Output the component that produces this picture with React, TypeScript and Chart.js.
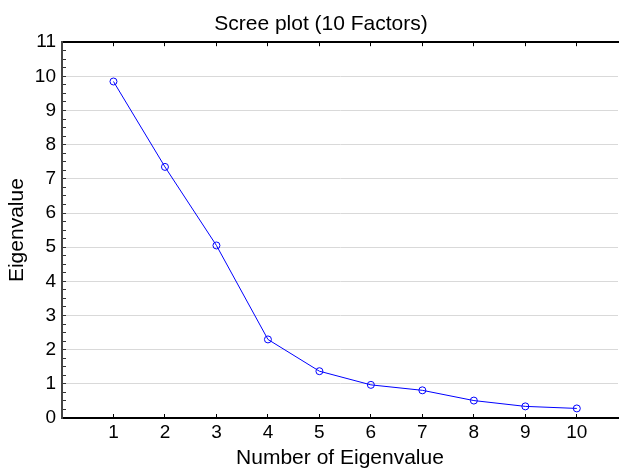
import React, { useEffect, useRef } from 'react';
import { Chart, registerables } from 'chart.js';

Chart.register(...registerables);

const factorNumbers = [1, 2, 3, 4, 5, 6, 7, 8, 9, 10];
const eigenvalues = [9.85, 7.35, 5.05, 2.3, 1.37, 0.97, 0.81, 0.51, 0.34, 0.28];
const xTickValues = [1, 2, 3, 4, 5, 6, 7, 8, 9, 10];
const yMin = 0;
const yMax = 11;
const yMinorStep = 0.25;
const chartTitle = 'Scree plot (10 Factors)';
const xAxisTitle = 'Number of Eigenvalue';
const yAxisTitle = 'Eigenvalue';

const FONT = '"Liberation Sans", Arial, sans-serif';

export default function App() {
  const ref = useRef<HTMLCanvasElement>(null);

  useEffect(() => {
    if (!ref.current) return;
    const chart = new Chart(ref.current, {
      type: 'line',
      data: {
        datasets: [
          {
            data: factorNumbers.map((x, i) => ({ x, y: eigenvalues[i] })),
            borderColor: '#0000ff',
            borderWidth: 1,
            pointRadius: 3.5,
            pointBorderColor: '#0000ff',
            pointBackgroundColor: 'rgba(0,0,0,0)',
            pointBorderWidth: 1,
            tension: 0,
            fill: false,
          },
        ],
      },
      options: {
        responsive: false,
        maintainAspectRatio: false,
        animation: false,
        layout: { padding: { top: 0, right: 0, bottom: 0, left: 19 } },
        plugins: {
          legend: { display: false },
          tooltip: { enabled: false },
          title: {
            display: true,
            text: chartTitle,
            color: '#000',
            font: { family: FONT, size: 21, weight: 'normal' },
            padding: { top: 12, bottom: 5 },
          },
        },
        scales: {
          x: {
            type: 'linear',
            position: 'bottom',
            min: 0,
            max: 10.8,
            afterBuildTicks: (s: any) => {
              s.ticks = xTickValues.map((v) => ({ value: v }));
            },
            afterFit: (s: any) => {
              s.height = 56;
            },
            grid: { drawOnChartArea: false, tickLength: -4, tickColor: '#000', tickWidth: 1 },
            border: { color: '#000', width: 2 },
            ticks: {
              color: '#000',
              font: { family: FONT, size: 19 },
              padding: 7,
              autoSkip: false,
              maxRotation: 0,
            },
            title: {
              display: true,
              text: xAxisTitle,
              color: '#000',
              font: { family: FONT, size: 21 },
              padding: { top: 0, bottom: 3 },
            },
          },
          x2: {
            type: 'linear',
            position: 'top',
            min: 0,
            max: 10.8,
            afterBuildTicks: (s: any) => {
              s.ticks = xTickValues.map((v) => ({ value: v }));
            },
            afterFit: (s: any) => {
              s.height = 0;
            },
            grid: { drawOnChartArea: false, tickLength: -4, tickColor: '#000', tickWidth: 1 },
            border: { color: '#000', width: 2 },
            ticks: { display: false },
          },
          y: {
            type: 'linear',
            position: 'left',
            min: yMin,
            max: yMax,
            afterFit: (s: any) => {
              s.width = 43;
            },
            grid: {
              tickLength: -4,
              tickColor: '#333',
              color: (ctx: any) =>
                ctx.tick && Number.isInteger(ctx.tick.value) ? '#d9d9d9' : 'rgba(0,0,0,0)',
              lineWidth: 1,
            },
            border: { color: '#444', width: 2 },
            ticks: {
              stepSize: yMinorStep,
              autoSkip: false,
              color: '#000',
              font: { family: FONT, size: 19 },
              padding: 10,
              callback: (v: any) => (Number.isInteger(v) ? String(v) : ''),
            },
            title: {
              display: true,
              text: yAxisTitle,
              color: '#000',
              font: { family: FONT, size: 21 },
              padding: { top: -14, bottom: 0 },
            },
          },
        },
      },
    });
    return () => chart.destroy();
  }, []);

  return (
    <div style={{ position: 'fixed', left: 0, top: 0, width: 623, height: 474, background: '#fff' }}>
      <canvas ref={ref} width={623} height={474} style={{ width: 623, height: 474, display: 'block' }} />
    </div>
  );
}
